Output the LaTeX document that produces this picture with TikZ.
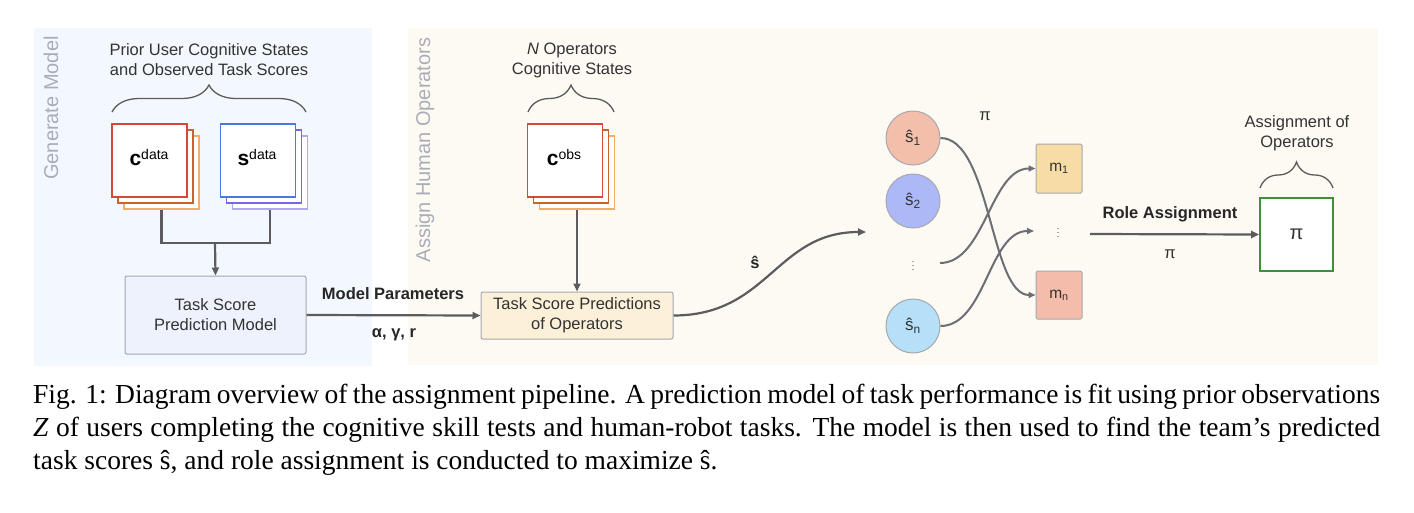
\documentclass[tikz,border=0pt]{standalone}
\usepackage{fontspec}
\setmainfont{Liberation Sans}
\newfontfamily\capfont{Liberation Serif}
\usetikzlibrary{arrows.meta,decorations.pathreplacing,calc}
\definecolor{leftbg}{HTML}{F3F8FE}
\definecolor{rightbg}{HTML}{FDFAF4}
\definecolor{txt}{HTML}{333333}
\definecolor{vtxt}{HTML}{A9AEB6}
\definecolor{conn}{HTML}{5C5C5E}
\definecolor{conn2}{HTML}{6B6E75}
\definecolor{boxline}{HTML}{A5A8AF}
\definecolor{cred}{HTML}{D2483A}
\definecolor{corangeB}{HTML}{C8652F}
\definecolor{corangeC}{HTML}{F2AE66}
\definecolor{sblue}{HTML}{4A78DC}
\definecolor{spurB}{HTML}{7867E6}
\definecolor{spurC}{HTML}{B2A7F4}
\definecolor{tsmfill}{HTML}{EDF2FC}
\definecolor{tspfill}{HTML}{FCF0D9}
\definecolor{cA}{HTML}{F4BFAA}
\definecolor{cB}{HTML}{ADB9F7}
\definecolor{cN}{HTML}{B5E0F8}
\definecolor{mA}{HTML}{F8DCA6}
\definecolor{mN}{HTML}{F4BCAA}
\definecolor{pigreen}{HTML}{3E8E3A}
\tikzset{
  lbl/.style={text=txt, font=\fontsize{16.5}{20}\selectfont, align=center, inner sep=0},
  blbl/.style={text=black!85, font=\fontsize{16.5}{20}\selectfont\bfseries, align=center, inner sep=0},
  vlbl/.style={text=vtxt, font=\fontsize{20}{24}\selectfont, rotate=90, inner sep=0},
  layer/.style={rectangle, minimum width=75pt, minimum height=73pt, inner sep=0, fill=white, line width=1.6pt},
  bracestyle/.style={draw=conn, line width=1.3pt, decorate, decoration={brace, amplitude=27pt}},
  thickconn/.style={draw=conn, line width=2.6pt},
  arr/.style={draw=conn, line width=2.2pt, -{Triangle[length=8pt,width=7pt]}},
  arrthin/.style={draw=conn2, line width=2pt, -{Triangle[length=7pt,width=6pt]}},
  procbox/.style={rectangle, draw=boxline, line width=1pt, rounded corners=2pt, text=txt, font=\fontsize{16.5}{20}\selectfont, align=center},
  circ/.style={circle, minimum size=54pt, inner sep=0, draw=boxline, line width=1pt, text=txt, font=\fontsize{17}{20}\selectfont},
  mbox/.style={rectangle, minimum width=46pt, minimum height=48pt, inner sep=0, draw=boxline, line width=1pt, rounded corners=1.5pt, text=txt, font=\fontsize{15.5}{18}\selectfont},
  captext/.style={anchor=base west, inner sep=0, font=\capfont\fontsize{27.5}{33}\selectfont, text=black}
}
\begin{document}
\begin{tikzpicture}[x=1pt,y=-1pt]
\useasboundingbox (0,0) rectangle (1414,512);
% panels
\fill[leftbg] (34,28) rectangle (372,366);
\fill[rightbg] (408,28) rectangle (1378,365);
\node[vlbl] (gm) at (51,108) {Generate Model};
\node[vlbl] (aho) at (425,150) {Assign Human Operators};

% top labels and braces
\node[lbl] (prior) at (209,60) {Prior User Cognitive States\\and Observed Task Scores};
\draw[bracestyle] (112,112) -- (306,112);
\node[lbl] (nops) at (572,60) {\textit{N} Operators\\Cognitive States};
\draw[bracestyle] (528,112) -- (614,112);
\node[lbl] (asg) at (1297,133) {Assignment of\\Operators};
\draw[bracestyle, decoration={brace, amplitude=26pt}] (1260,188) -- (1333,188);

% c data stack
\node[layer, draw=corangeC] (cd3) at (161.5,172.5) {};
\node[layer, draw=corangeB] (cd2) at (155.5,166.5) {};
\node[layer, draw=cred] (cd) at (149.5,160.5) {};
\node[inner sep=0] (cdl) at (149,158) {{\fontsize{21}{21}\selectfont\bfseries c}\raisebox{6pt}{\fontsize{14}{14}\selectfont data}};
% s data stack
\node[layer, draw=spurC] (sd3) at (270,172.5) {};
\node[layer, draw=spurB] (sd2) at (264,166.5) {};
\node[layer, draw=sblue] (sd) at (258,160.5) {};
\node[inner sep=0] (sdl) at (257,158) {{\fontsize{21}{21}\selectfont\bfseries s}\raisebox{6pt}{\fontsize{14}{14}\selectfont data}};
% c obs stack
\node[layer, draw=corangeC] (co3) at (577,172.5) {};
\node[layer, draw=corangeB] (co2) at (571,166.5) {};
\node[layer, draw=cred] (co) at (565,160.5) {};
\node[inner sep=0] (col) at (564,158) {{\fontsize{21}{21}\selectfont\bfseries c}\raisebox{6pt}{\fontsize{14}{14}\selectfont obs}};

% process boxes
\node[procbox, fill=tsmfill, minimum width=181pt, minimum height=78pt] (tsm) at (215.5,315) {Task Score\\Prediction Model};
\node[procbox, fill=tspfill, minimum width=192pt, minimum height=47pt, inner sep=0] (tsp) at (577,315.5) {Task Score Predictions\\of Operators};

% left connectors
\coordinate (j) at (215,243);
\draw[thickconn] (cd3.south) |- (j) -| (sd3.south);
\draw[arr] (j) -- (tsm.north);
\draw[arr] (co3.south) -- (tsp.north);
\draw[arr] (tsm.east) -- (tsp.west);
\node[blbl] (mp) at (393,294) {Model Parameters};
\node[blbl] (agr) at (394,335) {α, γ, r};

% circles
\node[circ, fill=cA] (s1) at (913,138) {ŝ\textsubscript{1}};
\node[circ, fill=cB] (s2) at (913,201) {ŝ\textsubscript{2}};
\node[inner sep=0, text=txt] (sdots) at (913,263) {\fontsize{9}{9}\selectfont$\vdots$};
\node[circ, fill=cN] (sn) at (913,326) {ŝ\textsubscript{n}};
\node[lbl] (pitop) at (985,116) {π};

% s hat arrow
\coordinate (sarr) at (866,232);
\draw[arr] (tsp.east) .. controls +(95,0) and +(-90,0) .. (sarr);
\node[blbl] (shat) at (755,262) {ŝ};

% m boxes
\node[mbox, fill=mA, minimum height=49pt] (m1) at (1059,168.5) {m\textsubscript{1}};
\node[inner sep=0, text=txt] (mdots) at (1058,230) {\fontsize{9}{9}\selectfont$\vdots$};
\node[mbox, fill=mN] (mn) at (1059,295) {m\textsubscript{n}};
\coordinate (sdR) at (940,263);
\coordinate (mdL) at (1034,231);
\draw[arrthin] (s1.east) .. controls +(50,0) and +(-45,0) .. (mn.west);
\draw[arrthin] (sdR) .. controls +(45,0) and +(-45,0) .. (m1.west);
\draw[arrthin] (sn.east) .. controls +(45,0) and +(-45,0) .. (mdL);

% role assignment
\node[rectangle, minimum width=73pt, minimum height=73pt, inner sep=0, fill=white, draw=pigreen, line width=1.6pt, font=\fontsize{20}{20}\selectfont, text=txt] (pibox) at (1296.5,234.5) {π};
\coordinate (ra) at (1090,234);
\draw[arr] (ra) -- (pibox.west);
\node[blbl] (rolel) at (1170,214) {Role Assignment};
\node[lbl] (pibot) at (1170,254) {π};

% caption
\node[captext] (cap1) at (33,403) {\makebox[1347pt][s]{Fig. 1: Diagram overview of the assignment pipeline. A prediction model of task performance is fit using prior observations}};
\node[captext] (cap2) at (33,436) {\makebox[1347pt][s]{\textit{Z} of users completing the cognitive skill tests and human-robot tasks. The model is then used to find the team’s predicted}};
\node[captext] (cap3) at (33,469) {task scores ŝ, and role assignment is conducted to maximize ŝ.};
\end{tikzpicture}
\end{document}
